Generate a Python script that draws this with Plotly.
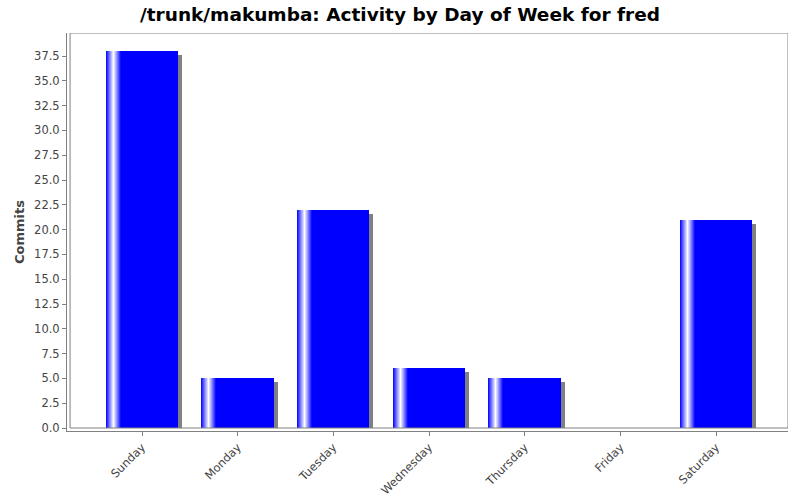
import plotly.graph_objects as go

days = ['Sunday', 'Monday', 'Tuesday', 'Wednesday', 'Thursday', 'Friday', 'Saturday']
commits = [38, 5, 22, 6, 5, 0, 21]

title = '/trunk/makumba: Activity by Day of Week for fred'
y_title = 'Commits'

# pixel helpers (category step ~95.7px, 9.92px per commit)
px_x = 1 / 95.7
px_y = 1 / 9.92
bar_w = 0.75
left = -bar_w / 2

fig = go.Figure()

# grey drop shadow, 4px right and 4px down
fig.add_trace(go.Bar(
    x=days, y=[max(v - 4 * px_y, 0) for v in commits],
    width=bar_w, offset=left + 4 * px_x,
    marker_color='#808080', marker_line_width=0,
    hoverinfo='skip', showlegend=False))

# main blue bar
fig.add_trace(go.Bar(
    x=days, y=commits,
    width=bar_w, offset=left,
    marker_color='#0000ff', marker_line_width=0,
    showlegend=False))

# white highlight stripe near the left edge, built from thin strips
n_strips = 16
strip_w = 16 * px_x / n_strips
for k in range(n_strips):
    pos = (k + 0.5) * 16 / n_strips
    a = max(0.0, 1 - abs(pos - 7.5) / 7.5)
    c = int(255 * a)
    fig.add_trace(go.Bar(
        x=days, y=commits,
        width=strip_w, offset=left + k * strip_w,
        marker_color=f'rgb({c},{c},255)', marker_line_width=0,
        hoverinfo='skip', showlegend=False))

# plot box sits 3px inside the axis lines
fig.add_shape(type='rect', xref='x', yref='y',
              x0=-0.752, x1=6.752, y0=0, y1=39.82,
              line=dict(color='#808080', width=1), layer='above')

fig.update_layout(
    width=800, height=500,
    barmode='overlay',
    bargap=0,
    plot_bgcolor='white', paper_bgcolor='white',
    margin=dict(l=67, r=12, t=33, b=69),
    font=dict(family='DejaVu Sans', color='#444444'),
    title=dict(text=title, x=0.5, xanchor='center', y=0.97, yanchor='middle',
               automargin=False,
               font=dict(family='DejaVu Sans', size=18.5, color='black', weight='bold')),
    xaxis=dict(
        type='category', range=[-0.784, 6.752], automargin=False,
        showline=True, linecolor='#808080', linewidth=1,
        ticks='outside', ticklen=4, tickcolor='#808080',
        tickangle=-45, tickfont=dict(size=11.5, color='#444444'),
        showgrid=False, zeroline=False),
    yaxis=dict(
        range=[-0.302, 39.82], dtick=2.5, tick0=0, tickformat='.1f', automargin=False,
        showline=True, linecolor='#808080', linewidth=1,
        ticks='outside', ticklen=4, tickcolor='#808080',
        tickfont=dict(size=11.5, color='#444444'),
        title=dict(text=y_title, font=dict(size=13, color='#444444', weight='bold'), standoff=6),
        showgrid=False, zeroline=False),
)

fig.write_html('out.html', config={'displayModeBar': False},
               post_script="document.body.style.margin='0';")
